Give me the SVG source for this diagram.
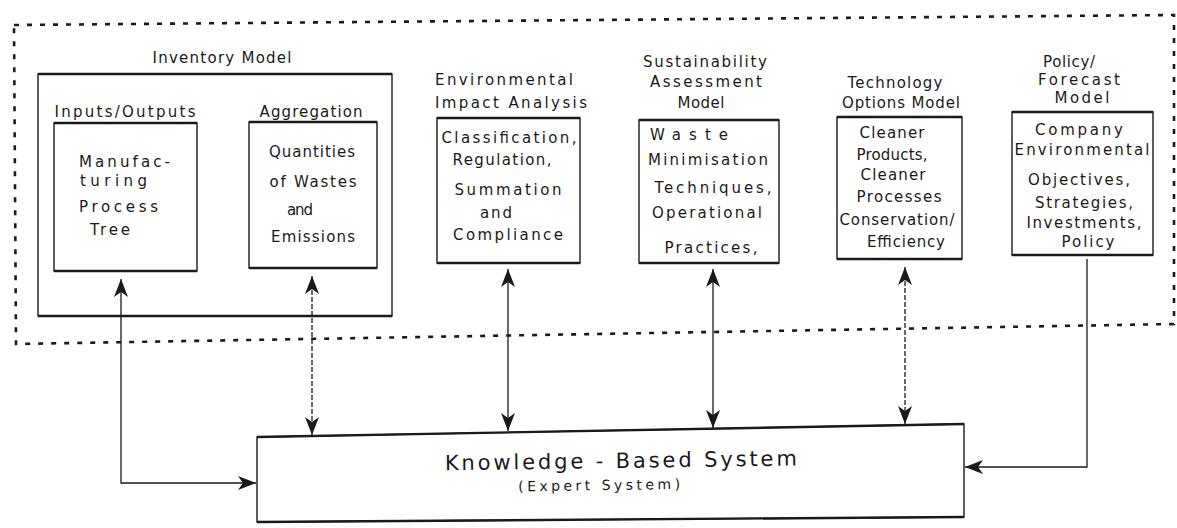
<svg xmlns="http://www.w3.org/2000/svg" width="1177" height="528" viewBox="0 0 1177 528">
  <style>
    text { font-family: "DejaVu Sans", "Liberation Sans", sans-serif; font-size: 15px; fill: #1a1a1a; }
    .m { text-anchor: middle; }
    .box { fill: none; stroke: #1a1a1a; stroke-width: 1.4; }
    .edge { stroke: #1a1a1a; stroke-width: 2.4; }
    .frame { fill: none; stroke: #1a1a1a; stroke-width: 2.6; stroke-dasharray: 5 8; }
    .link { fill: none; stroke: #1a1a1a; stroke-width: 1.3; }
    .dash { stroke-dasharray: 5 2; }
    .title { font-size: 21px; }
    .sub { font-size: 14px; }
  </style>
  <defs>
    <marker id="head" markerUnits="userSpaceOnUse" markerWidth="18" markerHeight="14" refX="18" refY="7" orient="auto-start-reverse">
      <path d="M0,0 L18,7 L0,14 L5,7 Z" fill="#1a1a1a"/>
    </marker>
  </defs>
  <rect width="1177" height="528" fill="#ffffff"/>

  <!-- dotted boundary around the model group -->
  <polygon id="model-frame" class="frame" points="14,25 1174,15 1174,324 16,344"/>

  <!-- Inventory model with its two sub-boxes -->
  <g id="inventory-model">
    <text class="m" x="222" y="63" textLength="139" lengthAdjust="spacing">Inventory Model</text>
    <rect class="box" x="38" y="74" width="354" height="242"/>
    <line class="edge" x1="38" y1="74" x2="392" y2="74"/>
    <line class="edge" x1="38" y1="316" x2="392" y2="316"/>
  </g>

  <g id="inputs-outputs">
    <text class="m" x="125" y="117" textLength="141" lengthAdjust="spacing">Inputs/Outputs</text>
    <rect class="box" x="54" y="123" width="143" height="148"/>
    <line class="edge" x1="54" y1="123" x2="197" y2="123"/>
    <line class="edge" x1="54" y1="271" x2="197" y2="271"/>
    <text x="79" y="167" textLength="91" lengthAdjust="spacing">Manufac-</text>
    <text x="80" y="186" textLength="67" lengthAdjust="spacing">turing</text>
    <text x="79" y="212" textLength="79" lengthAdjust="spacing">Process</text>
    <text x="90" y="235" textLength="40" lengthAdjust="spacing">Tree</text>
  </g>

  <g id="aggregation">
    <text class="m" x="311" y="117" textLength="103" lengthAdjust="spacing">Aggregation</text>
    <rect class="box" x="249" y="122" width="128" height="146"/>
    <line class="edge" x1="249" y1="122" x2="377" y2="122"/>
    <line class="edge" x1="249" y1="268" x2="377" y2="268"/>
    <text class="m" x="312" y="157" textLength="86" lengthAdjust="spacing">Quantities</text>
    <text class="m" x="313" y="187" textLength="87" lengthAdjust="spacing">of Wastes</text>
    <text class="m" x="300" y="215" textLength="26" lengthAdjust="spacing">and</text>
    <text class="m" x="313" y="242" textLength="84" lengthAdjust="spacing">Emissions</text>
  </g>

  <g id="impact-analysis">
    <text class="m" x="504" y="85" textLength="138" lengthAdjust="spacing">Environmental</text>
    <text class="m" x="511" y="108" textLength="152" lengthAdjust="spacing">Impact Analysis</text>
    <rect class="box" x="437" y="118" width="143" height="145"/>
    <line class="edge" x1="437" y1="118" x2="580" y2="118"/>
    <line class="edge" x1="437" y1="263" x2="580" y2="263"/>
    <text class="m" x="509" y="143" textLength="135" lengthAdjust="spacing">Classification,</text>
    <text class="m" x="502" y="165" textLength="99" lengthAdjust="spacing">Regulation,</text>
    <text class="m" x="508" y="195" textLength="107" lengthAdjust="spacing">Summation</text>
    <text class="m" x="496" y="218" textLength="32" lengthAdjust="spacing">and</text>
    <text class="m" x="508" y="240" textLength="110" lengthAdjust="spacing">Compliance</text>
  </g>

  <g id="sustainability-model">
    <text class="m" x="705" y="67" textLength="124" lengthAdjust="spacing">Sustainability</text>
    <text class="m" x="706" y="87" textLength="112" lengthAdjust="spacing">Assessment</text>
    <text class="m" x="701" y="108" textLength="47" lengthAdjust="spacing">Model</text>
    <rect class="box" x="639" y="120" width="140" height="143"/>
    <line class="edge" x1="639" y1="120" x2="779" y2="120"/>
    <line class="edge" x1="639" y1="263" x2="779" y2="263"/>
    <text class="m" x="689" y="140" textLength="78" lengthAdjust="spacing">Waste</text>
    <text class="m" x="708" y="165" textLength="120" lengthAdjust="spacing">Minimisation</text>
    <text class="m" x="713" y="193" textLength="117" lengthAdjust="spacing">Techniques,</text>
    <text class="m" x="707" y="218" textLength="110" lengthAdjust="spacing">Operational</text>
    <text class="m" x="711" y="253" textLength="93" lengthAdjust="spacing">Practices,</text>
  </g>

  <g id="technology-model">
    <text class="m" x="895" y="88" textLength="95" lengthAdjust="spacing">Technology</text>
    <text class="m" x="901" y="108" textLength="118" lengthAdjust="spacing">Options Model</text>
    <rect class="box" x="837" y="117" width="125" height="142"/>
    <line class="edge" x1="837" y1="117" x2="962" y2="117"/>
    <line class="edge" x1="837" y1="259" x2="962" y2="259"/>
    <text class="m" x="892" y="138" textLength="65" lengthAdjust="spacing">Cleaner</text>
    <text class="m" x="892" y="160" textLength="71" lengthAdjust="spacing">Products,</text>
    <text class="m" x="893" y="180" textLength="65" lengthAdjust="spacing">Cleaner</text>
    <text class="m" x="899" y="202" textLength="85" lengthAdjust="spacing">Processes</text>
    <text class="m" x="897" y="225" textLength="115" lengthAdjust="spacing">Conservation/</text>
    <text class="m" x="906" y="247" textLength="78" lengthAdjust="spacing">Efficiency</text>
  </g>

  <g id="policy-model">
    <text class="m" x="1069" y="67" textLength="52" lengthAdjust="spacing">Policy/</text>
    <text class="m" x="1079" y="85" textLength="82" lengthAdjust="spacing">Forecast</text>
    <text class="m" x="1082" y="103" textLength="55" lengthAdjust="spacing">Model</text>
    <rect class="box" x="1012" y="112" width="141" height="143"/>
    <line class="edge" x1="1012" y1="112" x2="1153" y2="112"/>
    <line class="edge" x1="1012" y1="255" x2="1153" y2="255"/>
    <text class="m" x="1079" y="135" textLength="88" lengthAdjust="spacing">Company</text>
    <text class="m" x="1082" y="155" textLength="135" lengthAdjust="spacing">Environmental</text>
    <text class="m" x="1079" y="185" textLength="102" lengthAdjust="spacing">Objectives,</text>
    <text class="m" x="1084" y="208" textLength="98" lengthAdjust="spacing">Strategies,</text>
    <text class="m" x="1084" y="228" textLength="115" lengthAdjust="spacing">Investments,</text>
    <text class="m" x="1088" y="247" textLength="53" lengthAdjust="spacing">Policy</text>
  </g>

  <!-- central knowledge-based system -->
  <g id="knowledge-system">
    <polygon class="box" points="257,437 964,424 964,517 257,522"/>
    <line class="edge" x1="257" y1="437" x2="964" y2="424"/>
    <line class="edge" x1="257" y1="522" x2="964" y2="517"/>
    <g transform="rotate(-0.8 610 476)">
      <text class="m title" x="621" y="468" textLength="352" lengthAdjust="spacing">Knowledge - Based System</text>
      <text class="m sub" x="599" y="490" textLength="162" lengthAdjust="spacing">(Expert System)</text>
    </g>
  </g>

  <g id="connectors">
    <path class="link" d="M121,279 V483 H256" marker-start="url(#head)" marker-end="url(#head)"/>
    <path class="link dash" d="M312,276 V435" marker-start="url(#head)" marker-end="url(#head)"/>
    <path class="link" d="M508,269 V431" marker-start="url(#head)" marker-end="url(#head)"/>
    <path class="link" d="M713,269 V428" marker-start="url(#head)" marker-end="url(#head)"/>
    <path class="link dash" d="M905,267 V424" marker-start="url(#head)" marker-end="url(#head)"/>
    <path class="link" d="M1087,259 V467 H965" marker-end="url(#head)"/>
  </g>
</svg>
